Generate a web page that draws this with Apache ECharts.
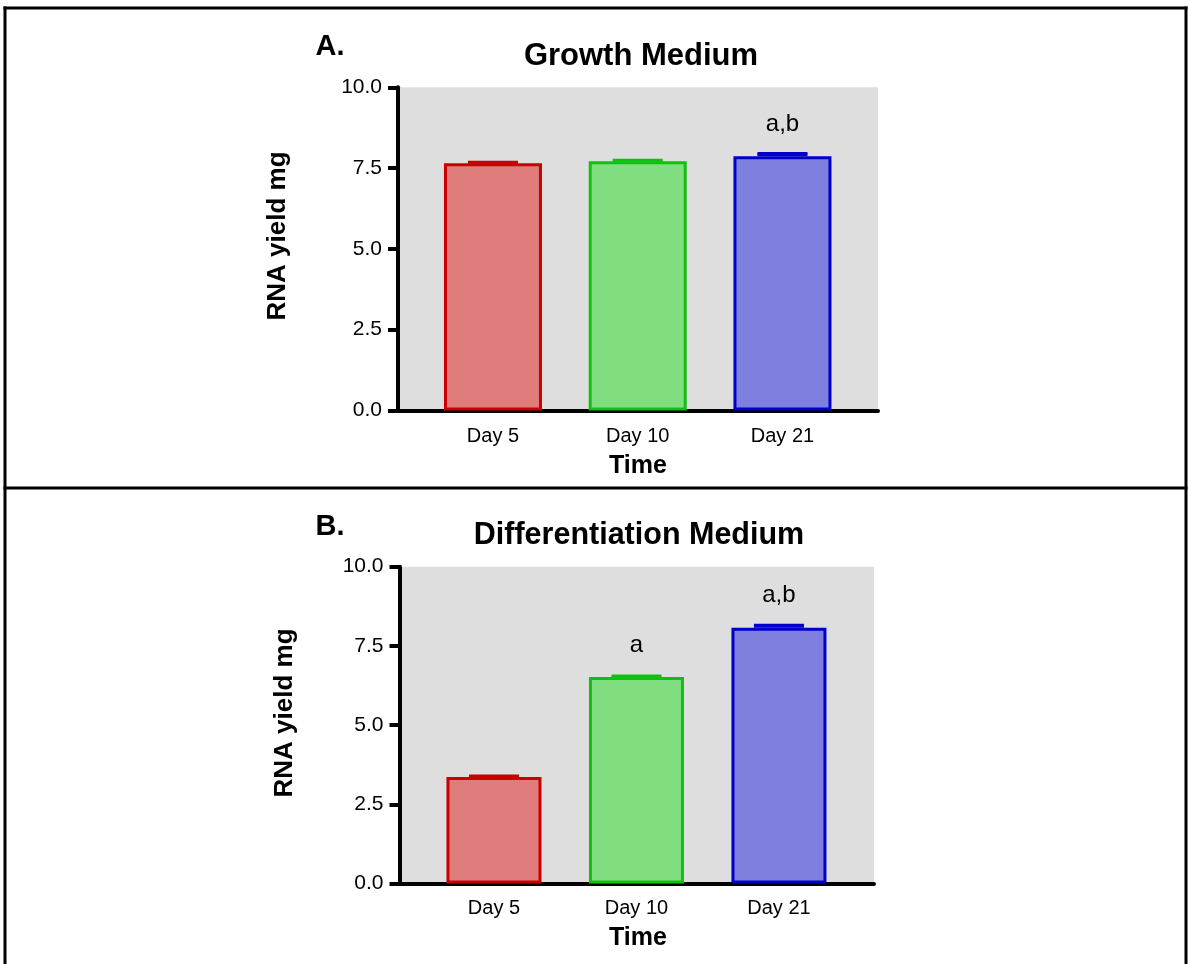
<!DOCTYPE html>
<html>
<head>
<meta charset="utf-8">
<title>RNA yield over time</title>
<script src="https://cdn.jsdelivr.net/npm/echarts@6/dist/echarts.min.js"></script>
<style>
  html, body { margin: 0; padding: 0; background: #ffffff; }
  #chart { width: 1188px; height: 964px; }
</style>
</head>
<body>
<div id="chart"></div>
<script>
// Sampling days shown on the x axis
const days = ['Day 5', 'Day 10', 'Day 21'];

// RNA yield (mg) and its error, growth medium
const growthYield = [7.65, 7.71, 7.87];
const growthError = [0.03, 0.03, 0.08];
const growthMarks = ['', '', 'a,b'];

// RNA yield (mg) and its error, differentiation medium
const diffYield = [3.36, 6.52, 8.07];
const diffError = [0.03, 0.03, 0.08];
const diffMarks = ['', 'a', 'a,b'];

// Y axis tick values
const yTicks = [0, 2.5, 5, 7.5, 10];

const fills = ['#df7c7c', '#80de80', '#7f7fdf'];
const edges = ['#c80000', '#10c010', '#0000c8'];
const FONT = '"Liberation Sans", Arial, sans-serif';

const chart = echarts.init(document.getElementById('chart'), null, { renderer: 'canvas' });

function panelGrid(left, top, width, height) {
  return {
    left: left, top: top, width: width, height: height,
    show: true, backgroundColor: '#dedede', borderWidth: 0, containLabel: false
  };
}

function xAxisFor(gridIndex, min, max, labelMargin) {
  return {
    type: 'value', gridIndex: gridIndex, min: min, max: max,
    axisLine: { show: true, onZero: false, lineStyle: { color: '#000', width: 4 } },
    axisTick: { show: false },
    splitLine: { show: false },
    axisLabel: {
      customValues: [0, 1, 2],
      formatter: function (v) { return days[Math.round(v)]; },
      color: '#000', fontFamily: FONT, fontSize: 20, margin: labelMargin
    }
  };
}

function yAxisFor(gridIndex) {
  return {
    type: 'value', gridIndex: gridIndex, min: 0, max: 10, interval: 2.5,
    axisLine: { show: true, onZero: false, lineStyle: { color: '#000', width: 4 } },
    axisTick: { show: true, length: 10, lineStyle: { color: '#000', width: 4 } },
    splitLine: { show: false },
    axisLabel: {
      customValues: yTicks,
      formatter: function (v) { return v.toFixed(1); },
      color: '#000', fontFamily: FONT, fontSize: 21, margin: 16
    }
  };
}

function barSeries(gridIndex, values, marks, width) {
  return {
    type: 'bar', xAxisIndex: gridIndex, yAxisIndex: gridIndex,
    barWidth: width,
    data: values.map(function (v, i) {
      return {
        value: [i, v],
        itemStyle: { color: fills[i], borderColor: edges[i], borderWidth: 3 },
        label: { show: marks[i] !== '', formatter: marks[i] }
      };
    }),
    label: {
      position: 'top', distance: 20, color: '#000',
      fontFamily: FONT, fontSize: 24
    },
    silent: true, animation: false
  };
}

// Upper error bar: a solid cap band from the mean up to mean + error
function errorSeries(gridIndex, values, errors) {
  return {
    type: 'custom', xAxisIndex: gridIndex, yAxisIndex: gridIndex,
    data: values.map(function (v, i) { return [i, v, errors[i]]; }),
    renderItem: function (params, api) {
      const i = api.value(0);
      const base = api.coord([i, api.value(1)]);
      const top = api.coord([i, api.value(1) + api.value(2)]);
      const half = 25;
      return {
        type: 'group',
        children: [
          {
            type: 'rect',
            shape: { x: top[0] - half, y: top[1], width: half * 2, height: base[1] - top[1] },
            style: { fill: edges[i] }
          },
          {
            type: 'line',
            shape: { x1: top[0] - half, y1: top[1], x2: top[0] + half, y2: top[1] },
            style: { stroke: edges[i], lineWidth: 3 }
          }
        ]
      };
    },
    z: 5, silent: true, animation: false
  };
}

function text(str, x, y, size, opts) {
  return Object.assign({
    type: 'text', x: x, y: y,
    style: {
      text: str, fill: '#000', font: 'bold ' + size + 'px ' + FONT,
      align: 'center', verticalAlign: 'middle'
    }
  }, opts || {});
}

function hLine(x1, x2, y) {
  return { type: 'line', shape: { x1: x1, y1: y, x2: x2, y2: y }, style: { stroke: '#000', lineWidth: 3 } };
}
function vLine(x, y1, y2) {
  return { type: 'line', shape: { x1: x, y1: y1, x2: x, y2: y2 }, style: { stroke: '#000', lineWidth: 3 } };
}

chart.setOption({
  animation: false,
  grid: [
    panelGrid(398, 87.3, 480, 323.2),
    panelGrid(399.5, 566.7, 474.5, 316.8)
  ],
  xAxis: [
    xAxisFor(0, -0.656, 2.66, 16),
    xAxisFor(1, -0.663, 2.667, 15)
  ],
  yAxis: [yAxisFor(0), yAxisFor(1)],
  series: [
    barSeries(0, growthYield, growthMarks, 98),
    errorSeries(0, growthYield, growthError),
    barSeries(1, diffYield, diffMarks, 95),
    errorSeries(1, diffYield, diffError)
  ],
  graphic: [
    // panel frame
    hLine(3.5, 1187.5, 8),
    vLine(5, 6.5, 964),
    vLine(1186, 6.5, 964),
    hLine(3.5, 1187.5, 488),
    // panel A texts
    text('A.', 330, 47, 29),
    text('Growth Medium', 641, 56, 31),
    text('RNA yield mg', 278, 236, 26, { rotation: Math.PI / 2 }),
    text('Time', 638, 466, 25),
    // panel B texts
    text('B.', 330, 527, 29),
    text('Differentiation Medium', 639, 536, 30.5),
    text('RNA yield mg', 285, 713, 26, { rotation: Math.PI / 2 }),
    text('Time', 638, 938, 25)
  ]
});
</script>
</body>
</html>
